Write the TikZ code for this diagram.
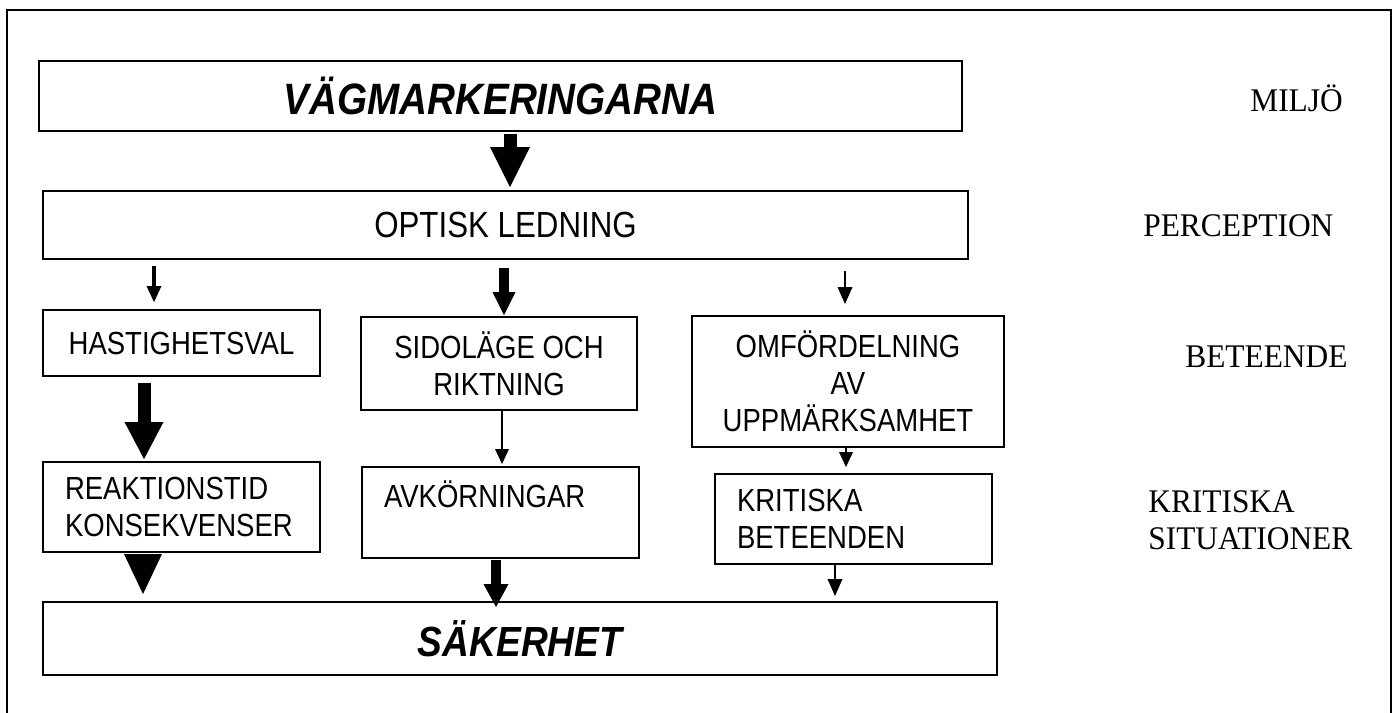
\documentclass[tikz,border=0pt]{standalone}
\usepackage{fontspec}
\setmainfont{Liberation Serif}
\newfontfamily\boxfont[FakeStretch=0.86]{Liberation Sans}
\newfontfamily\titlefont[FakeStretch=0.88]{Liberation Sans}
\newfontfamily\levelfont[FakeStretch=0.95]{Liberation Serif}
\usetikzlibrary{arrows.meta}
\tikzset{
  box/.style={draw, line width=1.1pt, inner sep=0pt, align=center,
    font=\boxfont\fontsize{18.2}{21}\selectfont},
  leftbox/.style={box, align=left, inner xsep=0.44cm, text width=4.66cm},
  titlebox/.style={box, font=\titlefont\bfseries\itshape\fontsize{25}{30}\selectfont},
  level/.style={inner sep=0pt, align=left, font=\levelfont\fontsize{18.8}{21}\selectfont},
  pil/.style n args={3}{line width=#1, -{Triangle[width=#2, length=#3, line width=0pt]}}
}

\begin{document}
\begin{tikzpicture}[x=0.02cm, y=-0.02cm]
\useasboundingbox (0,0) rectangle (1396,713);
\draw[line width=1.1pt] (7,713) -- (7,10) -- (1391,10) -- (1391,713);

\node[titlebox, minimum width=18.46cm, minimum height=1.4cm] (veg) at (500.5,96) {VÄGMARKERINGARNA};
\node[box, minimum width=18.5cm, minimum height=1.36cm, font=\boxfont\fontsize{20.7}{24}\selectfont] (optisk) at (505.5,225) {OPTISK LEDNING};
\node[box, minimum width=5.54cm, minimum height=1.32cm] (hast) at (181.5,343) {HASTIGHETSVAL};
\node[box, minimum width=5.52cm, minimum height=1.86cm] (sido) at (499,363.5) {SIDOLÄGE OCH\\RIKTNING};
\node[box, minimum width=6.24cm, minimum height=2.62cm] (omf) at (848,381.5) {OMFÖRDELNING\\AV\\UPPMÄRKSAMHET};
\node[leftbox, minimum height=1.8cm] (reak) at (181.5,507) {REAKTIONSTID\\KONSEKVENSER};
\node[leftbox, minimum height=1.82cm] (avk) at (500.5,512.5) {AVKÖRNINGAR\\\mbox{}};
\node[leftbox, minimum height=1.8cm] (krit) at (853.5,519) {KRITISKA\\BETEENDEN};
\node[titlebox, minimum width=19.08cm, minimum height=1.46cm, font=\titlefont\bfseries\itshape\fontsize{24}{28}\selectfont] (sak) at (520,638.5) {SÄKERHET};

\node[level, anchor=base west] (miljo) at (1250,112) {MILJÖ};
\node[level, anchor=base west] (perc) at (1143,236) {PERCEPTION};
\node[level, anchor=base west] (bete) at (1185,367) {BETEENDE};
\node[level, anchor=north west] (kritsit) at (1148,490) {KRITISKA\\SITUATIONER};

\draw[pil={0.26cm}{0.8cm}{0.8cm}, shorten <=0.04cm, shorten >=0.06cm] ([xshift=0.19cm]veg.south) -- ([xshift=0.19cm]veg.south |- optisk.north);
\draw[pil={0.08cm}{0.3cm}{0.32cm}, shorten <=0.12cm, shorten >=0.14cm] ([xshift=-0.55cm]hast.north |- optisk.south) -- ([xshift=-0.55cm]hast.north);
\draw[pil={0.2cm}{0.46cm}{0.46cm}, shorten <=0.16cm, shorten >=0.02cm] ([xshift=0.1cm]sido.north |- optisk.south) -- ([xshift=0.1cm]sido.north);
\draw[pil={0.6pt}{0.3cm}{0.34cm}, shorten <=0.22cm, shorten >=0.22cm] ([xshift=-0.06cm]omf.north |- optisk.south) -- ([xshift=-0.06cm]omf.north);
\draw[pil={0.26cm}{0.78cm}{0.74cm}, shorten <=0.12cm, shorten >=0.04cm] ([xshift=-0.75cm]hast.south) -- ([xshift=-0.75cm]hast.south |- reak.north);
\draw[pil={1.1pt}{0.28cm}{0.3cm}, shorten >=0.04cm] ([xshift=0.06cm]sido.south) -- ([xshift=0.06cm]sido.south |- avk.north);
\draw[pil={0.8pt}{0.28cm}{0.3cm}, shorten >=0.12cm] ([xshift=-0.04cm]omf.south) -- ([xshift=-0.04cm]omf.south |- krit.north);
\draw[pil={0.6pt}{0.76cm}{0.8cm}, shorten <=0.06cm, shorten >=0.14cm] ([xshift=-0.77cm]reak.south) -- ([xshift=-0.77cm]reak.south |- sak.north);
\draw[pil={0.2cm}{0.5cm}{0.46cm}, shorten <=0.02cm, shorten >=-0.12cm] ([xshift=-0.09cm]avk.south) -- ([xshift=-0.09cm]avk.south |- sak.north);
\draw[pil={0.8pt}{0.3cm}{0.34cm}, shorten <=-0.04cm, shorten >=0.1cm] ([xshift=-0.37cm]krit.south) -- ([xshift=-0.37cm]krit.south |- sak.north);
\end{tikzpicture}
\end{document}
